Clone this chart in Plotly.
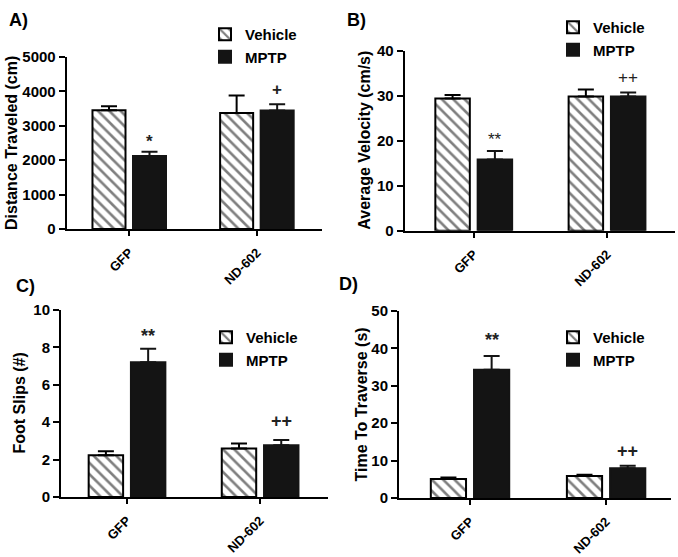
import plotly.graph_objects as go

# ---------------- data ----------------
categories = ["GFP", "ND-602"]

a_vehicle = [3450, 3370]
a_vehicle_err = [120, 510]
a_mptp = [2120, 3445]
a_mptp_err = [125, 185]
a_marks = ["*", "+"]

b_vehicle = [29.4, 29.8]
b_vehicle_err = [0.75, 1.6]
b_mptp = [15.85, 29.8]
b_mptp_err = [1.85, 0.9]
b_marks = ["**", "++"]

c_vehicle = [2.23, 2.59]
c_vehicle_err = [0.22, 0.27]
c_mptp = [7.2, 2.77]
c_mptp_err = [0.73, 0.28]
c_marks = ["**", "++"]

d_vehicle = [5.1, 5.9]
d_vehicle_err = [0.4, 0.35]
d_mptp = [34.3, 7.95]
d_mptp_err = [3.7, 0.65]
d_marks = ["**", "++"]

y_titles = ["Distance Traveled (cm)", "Average Velocity (cm/s)", "Foot Slips (#)", "Time To Traverse (s)"]
panel_labels = ["A)", "B)", "C)", "D)"]
y_ticks = [[0, 1000, 2000, 3000, 4000, 5000], [0, 10, 20, 30, 40], [0, 2, 4, 6, 8, 10], [0, 10, 20, 30, 40, 50]]

# ---------------- layout helpers ----------------
W, H = 678, 557
FONT = "Liberation Sans, Arial, sans-serif"
BARGAP = 0.365
BARGROUPGAP = 0.185

def px_x(p):
    return p / W

def px_y(p):
    return 1 - p / H

panels = [
    dict(veh=a_vehicle, veh_err=a_vehicle_err, mptp=a_mptp, mptp_err=a_mptp_err, marks=a_marks,
         xd=[66.7, 322], yd=[229, 57], xr=[-0.49, 1.51], legend=(205, 18), title_x=11, lab=(7, 8),
         mark_bold=True, mark_size=17, star_shift=10, plus_shift=15),
    dict(veh=b_vehicle, veh_err=b_vehicle_err, mptp=b_mptp, mptp_err=b_mptp_err, marks=b_marks,
         xd=[404.7, 675], yd=[230.7, 50.7], xr=[-0.518, 1.51], legend=(553, 11), title_x=365, lab=(345, 8),
         mark_bold=False, mark_size=17, star_shift=12, plus_shift=15),
    dict(veh=c_vehicle, veh_err=c_vehicle_err, mptp=c_mptp, mptp_err=c_mptp_err, marks=c_marks,
         xd=[61, 328], yd=[497, 310], xr=[-0.496, 1.51], legend=(206, 321), title_x=19, lab=(14, 274),
         mark_bold=True, mark_size=18, star_shift=13, plus_shift=19),
    dict(veh=d_vehicle, veh_err=d_vehicle_err, mptp=d_mptp, mptp_err=d_mptp_err, marks=d_marks,
         xd=[399, 671], yd=[498, 311], xr=[-0.522, 1.477], legend=(553, 321), title_x=361, lab=(337, 272),
         mark_bold=True, mark_size=18, star_shift=16, plus_shift=15),
]

fig = go.Figure()
annotations = []
layout = {}
mptp_offset = (1 - BARGAP) / 4  # centre of second bar in a group, in category units

for i, p in enumerate(panels):
    n = i + 1
    xa = "x" if n == 1 else f"x{n}"
    ya = "y" if n == 1 else f"y{n}"
    lg = "legend" if n == 1 else f"legend{n}"

    fig.add_trace(go.Bar(
        x=categories, y=p["veh"], name="Vehicle", xaxis=xa, yaxis=ya, legend=lg,
        marker=dict(color="white", line=dict(color="black", width=2),
                    pattern=dict(shape="\\", fgcolor="black", bgcolor="white", size=8, solidity=0.33)),
        error_y=dict(type="data", array=p["veh_err"], arrayminus=[0, 0], symmetric=False,
                     color="black", thickness=2, width=8),
        hoverinfo="skip",
    ))
    fig.add_trace(go.Bar(
        x=categories, y=p["mptp"], name="MPTP", xaxis=xa, yaxis=ya, legend=lg,
        marker=dict(color="#141414", line=dict(color="#141414", width=2)),
        error_y=dict(type="data", array=p["mptp_err"], arrayminus=[0, 0], symmetric=False,
                     color="#141414", thickness=2, width=8),
        hoverinfo="skip",
    ))

    axis_x = dict(domain=[px_x(p["xd"][0]), px_x(p["xd"][1])], anchor=ya, range=p["xr"],
                  type="category", showline=True, linecolor="black", linewidth=2,
                  ticks="outside", ticklen=5, tickwidth=2, tickcolor="black", ticklabelstandoff=4,
                  tickangle=-45, tickfont=dict(family=FONT, size=13, color="black", weight="bold"),
                  showgrid=False, zeroline=False, fixedrange=True, automargin=False)
    axis_y = dict(domain=[px_y(p["yd"][0]), px_y(p["yd"][1])], anchor=xa,
                  range=[0, y_ticks[i][-1]], tickvals=y_ticks[i],
                  showline=True, linecolor="black", linewidth=2,
                  ticks="outside", ticklen=6, tickwidth=2, tickcolor="black",
                  tickfont=dict(family=FONT, size=15, color="black", weight="bold"),
                  showgrid=False, zeroline=False, fixedrange=True, automargin=False)
    layout["xaxis" if n == 1 else f"xaxis{n}"] = axis_x
    layout["yaxis" if n == 1 else f"yaxis{n}"] = axis_y

    layout[lg] = dict(x=px_x(p["legend"][0]), y=px_y(p["legend"][1]), xanchor="left", yanchor="top",
                      bgcolor="rgba(0,0,0,0)", font=dict(family=FONT, size=15, color="black", weight="bold"),
                      traceorder="normal", itemclick=False, itemdoubleclick=False)

    # significance marks above MPTP bars
    for j, m in enumerate(p["marks"]):
        top = p["mptp"][j] + p["mptp_err"][j]
        shift = p["star_shift"] if "*" in m else p["plus_shift"]
        annotations.append(dict(
            x=j + mptp_offset, y=top, xref=xa, yref=ya, text=m, showarrow=False,
            xanchor="center", yanchor="middle", yshift=shift,
            font=dict(family=FONT, size=p["mark_size"], color="#222222",
                      weight="bold" if p["mark_bold"] else "normal"),
        ))

    # y axis title
    yc = (p["yd"][0] + p["yd"][1]) / 2
    annotations.append(dict(
        x=px_x(p["title_x"]), y=px_y(yc), xref="paper", yref="paper", text=y_titles[i],
        textangle=-90, showarrow=False, xanchor="center", yanchor="middle",
        font=dict(family=FONT, size=16, color="black", weight="bold"),
    ))
    # panel label
    annotations.append(dict(
        x=px_x(p["lab"][0]), y=px_y(p["lab"][1]), xref="paper", yref="paper", text=panel_labels[i],
        showarrow=False, xanchor="left", yanchor="top",
        font=dict(family=FONT, size=18, color="black", weight="bold"),
    ))

fig.update_layout(
    width=W, height=H, margin=dict(l=0, r=0, t=0, b=0, autoexpand=False),
    paper_bgcolor="white", plot_bgcolor="white",
    barmode="group", bargap=BARGAP, bargroupgap=BARGROUPGAP,
    annotations=annotations, showlegend=True, hovermode=False,
    **layout,
)

fig.write_html("out.html", config={"displayModeBar": False, "staticPlot": True},
               post_script="document.body.style.margin='0';document.body.style.overflow='hidden';")
